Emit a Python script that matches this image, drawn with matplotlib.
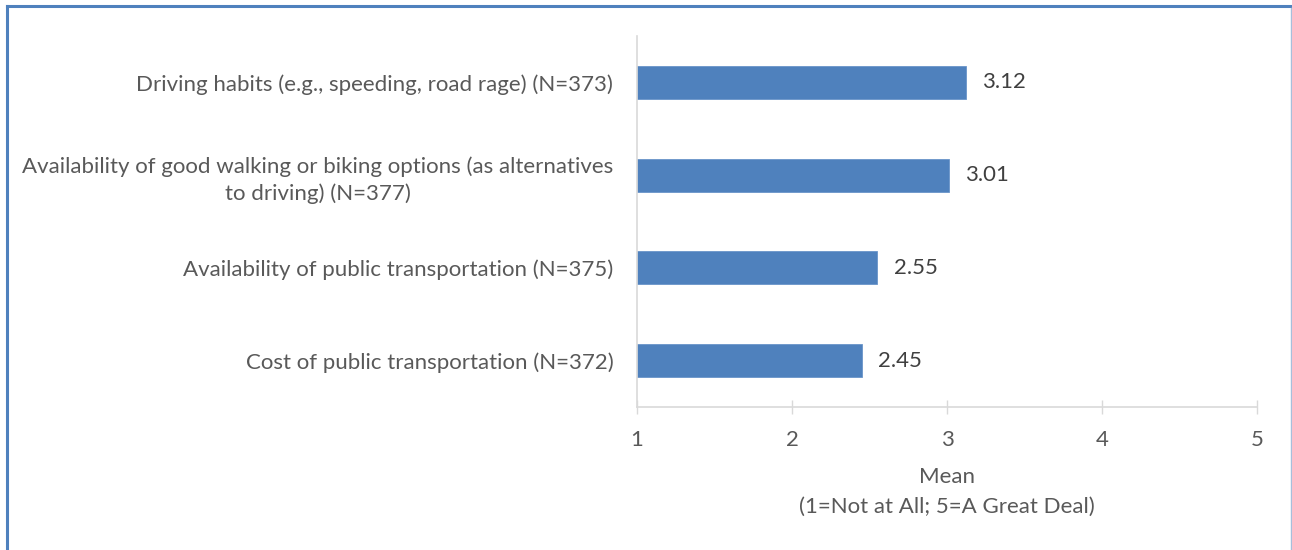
import matplotlib.pyplot as plt

# ── DATA ──────────────────────────────────────────────────────────────────────
categories = [
    "Driving habits (e.g., speeding, road rage) (N=373)",
    "Availability of good walking or biking options (as alternatives\nto driving) (N=377)",
    "Availability of public transportation (N=375)",
    "Cost of public transportation (N=372)",
]
means = [3.12, 3.01, 2.55, 2.45]
x_ticks = [1, 2, 3, 4, 5]

BAR_COL = "#4f81bd"
AXIS_COL = "#d9d9d9"
LABEL_COL = "#595959"
VALUE_COL = "#404040"
FS = 16

plt.rcParams["font.family"] = ["Lato", "DejaVu Sans"]

fig = plt.figure(figsize=(12.92, 5.5), dpi=100, facecolor="white")
ax = fig.add_axes([0.493, 0.26, 0.480, 0.6745])

# first category on top
ypos = list(range(len(categories)))[::-1]
base = x_ticks[0]
ax.barh(ypos, [m - base for m in means], left=base, height=0.355,
        color=BAR_COL, edgecolor="#6a95c9", linewidth=0.6)

for y, m in zip(ypos, means):
    ax.text(m + 0.105, y, f"{m:.2f}", va="center", ha="left",
            fontsize=FS, color=VALUE_COL)

ax.set_xlim(x_ticks[0], x_ticks[-1])
ax.set_ylim(-0.5, len(categories) - 0.5)
ax.set_xticks(x_ticks)
ax.set_xticklabels([str(t) for t in x_ticks], fontsize=FS, color=LABEL_COL)
ax.set_yticks(ypos)
ax.set_yticklabels(categories, fontsize=FS, color=LABEL_COL,
                   multialignment="center", linespacing=1.4)

ax.tick_params(axis="x", direction="inout", length=9.5, width=1,
               color=AXIS_COL, pad=12)
ax.tick_params(axis="y", length=0, pad=17)

for side in ["top", "right"]:
    ax.spines[side].set_visible(False)
for side in ["left", "bottom"]:
    ax.spines[side].set_color(AXIS_COL)
    ax.spines[side].set_linewidth(1.2)

ax.set_xlabel("Mean\n(1=Not at All; 5=A Great Deal)", fontsize=FS,
              color=LABEL_COL, labelpad=12, linespacing=1.65)

# chart frame: heavy top/left edges, faint right edge
fig.add_artist(plt.Line2D([0.0055, 1.0], [0.9885, 0.9885], transform=fig.transFigure,
                          color=BAR_COL, linewidth=2.2, solid_capstyle="projecting"))
fig.add_artist(plt.Line2D([0.0055, 0.0055], [0.0, 0.9885], transform=fig.transFigure,
                          color=BAR_COL, linewidth=2.2, solid_capstyle="projecting"))
fig.add_artist(plt.Line2D([0.9992, 0.9992], [0.0, 0.985], transform=fig.transFigure,
                          color="#a7bfdc", linewidth=1))

fig.savefig("out.png", dpi=100, facecolor="white")
